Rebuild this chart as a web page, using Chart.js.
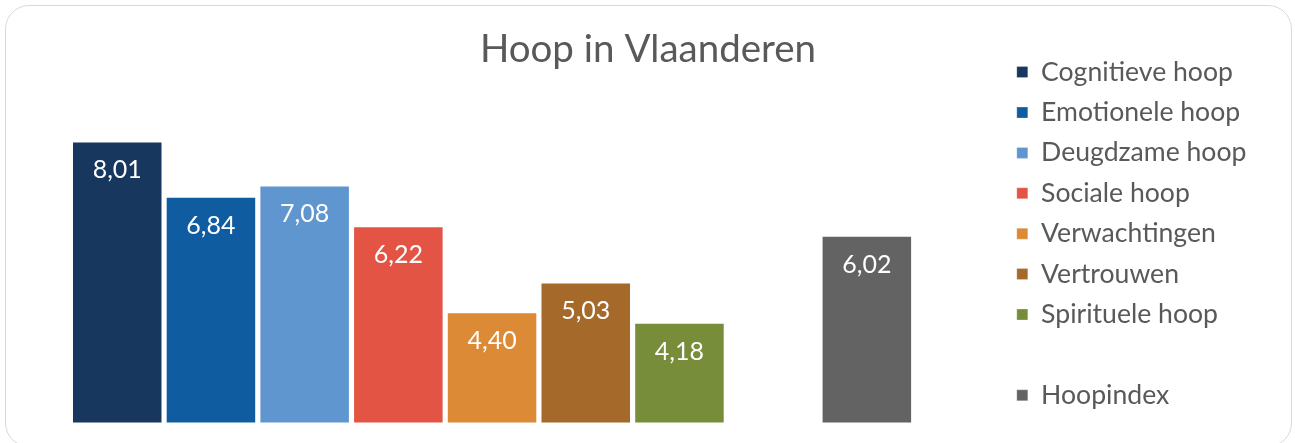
<!DOCTYPE html>
<html><head><meta charset="utf-8">
<script src="https://cdn.jsdelivr.net/npm/chart.js@4"></script>
<style>
html,body{margin:0;padding:0;background:#fff;overflow:hidden;}
#wrap{position:relative;width:1295px;height:443px;overflow:hidden;}
#frame{position:absolute;left:5px;top:5px;width:1287px;height:442px;border:1.5px solid #d9d9d9;border-radius:24px;box-sizing:border-box;pointer-events:none;}
canvas{position:absolute;left:0;top:0;}
</style></head><body>
<div id="wrap"><canvas id="c" width="1295" height="443"></canvas><div id="frame"></div></div>
<script>
const chartTitle = 'Hoop in Vlaanderen';
const categories = [''];
const seriesNames = ['Cognitieve hoop','Emotionele hoop','Deugdzame hoop','Sociale hoop','Verwachtingen','Vertrouwen','Spirituele hoop','','Hoopindex'];
const seriesValues = [8.01, 6.84, 7.08, 6.22, 4.40, 5.03, 4.18, null, 6.02];
const seriesColors = ['#17375e','#105ca0','#6096cf','#e35444','#dc8a35','#a5692a','#778d3a','rgba(0,0,0,0)','#636363'];

const FONT = 'Lato';
const LEG_FONT = 26.6, LEG_PAD = 13.8, BOX = 11;
const legendLeft = 1003;
const plotLeft = 70.4, plotRight = 913.7;
let padRight = 40;
let padLeft = padRight + 1;

const fmt = v => v.toFixed(2).replace('.', ',');

const valueLabels = {
  id: 'valueLabels',
  afterDatasetsDraw(chart) {
    const ctx = chart.ctx;
    ctx.save();
    ctx.font = 'normal 25px ' + FONT;
    ctx.fillStyle = '#ffffff';
    ctx.textAlign = 'center';
    ctx.textBaseline = 'alphabetic';
    chart.data.datasets.forEach((ds, i) => {
      const meta = chart.getDatasetMeta(i);
      meta.data.forEach((el, j) => {
        const v = ds.data[j];
        if (v == null) return;
        ctx.fillText(fmt(v), el.x, el.y + 37);
      });
    });
    ctx.restore();
  }
};

const datasets = seriesNames.map((name, i) => ({
  label: name,
  data: [seriesValues[i]],
  backgroundColor: seriesColors[i],
  borderColor: i === 7 ? 'rgba(0,0,0,0)' : 'rgba(255,255,255,0.25)',
  borderWidth: i === 7 ? 0 : 1,
  yAxisID: 'y'
}));

const chart = new Chart(document.getElementById('c'), {
  type: 'bar',
  data: { labels: categories, datasets },
  plugins: [valueLabels],
  options: {
    responsive: false,
    animation: false,
    devicePixelRatio: 1,
    layout: { padding: { top: 45, bottom: 20.4, left: padLeft, right: padRight } },
    datasets: { bar: { categoryPercentage: 1, barPercentage: 0.966 } },
    plugins: {
      title: {
        display: true,
        text: chartTitle,
        color: '#595959',
        font: { family: FONT, size: 38.5, weight: 'normal' },
        padding: { top: -18.4, bottom: 0 }
      },
      legend: {
        display: true,
        position: 'right',
        align: 'start',
        maxWidth: 600,
        labels: {
          color: '#595959',
          font: { family: FONT, size: LEG_FONT, weight: 'normal' },
          boxWidth: BOX,
          boxHeight: BOX,
          padding: LEG_PAD
        }
      },
      tooltip: { enabled: false }
    },
    scales: {
      x: { display: false },
      y: {
        position: 'left',
        min: 2.07, max: 9.46,
        display: true,
        ticks: { display: false },
        grid: { display: false },
        border: { display: false },
        afterFit: s => { s.width = plotLeft - padLeft; }
      },
      yR: {
        position: 'right',
        display: true,
        ticks: { display: false },
        grid: { display: false },
        border: { display: false },
        afterFit: s => { s.width = legendLeft - plotRight; }
      }
    }
  }
});

// place the legend where the reference has it, keep the title centred
const shift = chart.legend.left - legendLeft;
padRight = padRight + shift;
padLeft = padRight + 1;
chart.options.layout.padding.right = padRight;
chart.options.layout.padding.left = padLeft;
chart.update();
</script>
</body></html>
